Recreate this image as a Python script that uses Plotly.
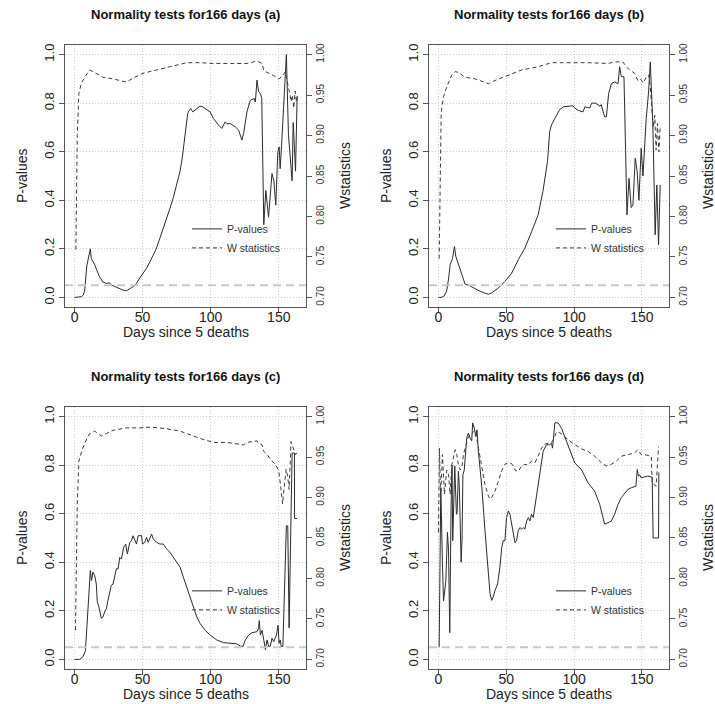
import plotly.graph_objects as go

# ---------------- data ----------------
panel_labels = ["(a)", "(b)", "(c)", "(d)"]
title_text = "Normality tests for166 days "
x_label = "Days since 5 deaths"
p_label = "P-values"
w_label = "Wstatistics"
p_name = "P-values"
w_name = "W statistics"
alpha_level = 0.05
x_ticks = [0, 50, 100, 150]
p_ticks = [0.0, 0.2, 0.4, 0.6, 0.8, 1.0]
w_ticks = [0.70, 0.75, 0.80, 0.85, 0.90, 0.95, 1.00]

# panel (a)
days_p_a = [0, 3, 5, 6.5, 7.5, 9, 10.5, 11.6, 12.3, 13.5, 14.8, 16.5, 18.4, 20.9, 23.4, 25.8, 27.5, 29.5, 32, 35.7,
            38.1, 40, 41.8, 43.5, 45.5, 47.9, 50.5, 52.9, 55.5, 57.8, 60, 62.7, 65, 67.6, 70.1, 72.5, 75, 77.5, 79,
            81.1, 83.1, 84.2, 85.3, 86.8, 88, 89.7, 92.2, 94, 95.9, 97.5, 99.6, 102, 104, 105.7, 108.2, 110.6, 112,
            114.3, 116, 118, 120.5, 122.9, 124.2, 125.5, 126.6, 129.1, 132, 132.8, 134, 135.2, 136.5, 137.5, 138.3,
            139, 140.5, 142.5, 145, 146.4, 147.8, 149.3, 150.3, 151, 152, 153.5, 155.6, 157.1, 159.8, 160.6, 162.3,
            163.5]
p_a = [0.0, 0.0, 0.003, 0.01, 0.03, 0.13, 0.17, 0.2, 0.16, 0.15, 0.135, 0.11, 0.085, 0.063, 0.058, 0.06, 0.05, 0.045,
       0.038, 0.03, 0.027, 0.032, 0.04, 0.045, 0.058, 0.08, 0.1, 0.12, 0.148, 0.175, 0.2, 0.244, 0.28, 0.326, 0.367,
       0.41, 0.46, 0.52, 0.57, 0.655, 0.757, 0.77, 0.778, 0.764, 0.77, 0.778, 0.788, 0.785, 0.778, 0.77, 0.764, 0.737,
       0.72, 0.71, 0.696, 0.723, 0.715, 0.716, 0.71, 0.703, 0.689, 0.648, 0.675, 0.73, 0.764, 0.812, 0.819, 0.805,
       0.895, 0.847, 0.84, 0.82, 0.5, 0.3, 0.44, 0.33, 0.51, 0.48, 0.38, 0.6, 0.62, 0.53, 0.62, 0.8, 1.0, 0.67, 0.48,
       0.72, 0.52, 0.83]
days_w_a = [1, 1.7, 2, 3.2, 4.9, 7.4, 11.1, 13.5, 18.4, 20.9, 28.3, 38.1, 43, 50.4, 60.3, 72.6, 82.4, 92.2, 102,
            116.8, 126.6, 134, 137.7, 138.9, 141.4, 146.3, 150, 152.5, 154.9, 157, 158, 159, 160, 161, 162, 163, 164]
w_a = [0.759, 0.85, 0.9, 0.952, 0.964, 0.972, 0.981, 0.979, 0.975, 0.972, 0.97, 0.966, 0.971, 0.977, 0.981, 0.986,
       0.99, 0.99, 0.989, 0.989, 0.989, 0.992, 0.989, 0.981, 0.978, 0.974, 0.97, 0.973, 0.979, 0.96, 0.953, 0.942,
       0.95, 0.934, 0.955, 0.941, 0.95]

# panel (b)
days_p_b = [0, 2, 4, 6, 7.5, 8.6, 10.3, 11.8, 12.7, 14.7, 17, 19.6, 23, 26, 29, 33, 36.8, 39, 44, 49, 54, 58.8, 63.7,
            68.6, 73.5, 77, 80.4, 82, 83.3, 85.8, 89.5, 92, 95.6, 99, 100.5, 103, 106.6, 108, 111.5, 113, 116, 119,
            120, 122.5, 123.8, 125.5, 127.5, 130, 132.4, 133.6, 134.8, 136.8, 138, 139, 140.5, 142.1, 143.4, 145.1,
            146.5, 147.8, 149.5, 150.8, 153.2, 155, 156.2, 158.1, 159.8, 161, 162.3, 163.5]
p_b = [0.0, 0.0, 0.005, 0.025, 0.08, 0.134, 0.16, 0.21, 0.17, 0.134, 0.093, 0.055, 0.048, 0.038, 0.03, 0.02, 0.013,
       0.018, 0.038, 0.066, 0.1, 0.155, 0.203, 0.27, 0.34, 0.436, 0.56, 0.682, 0.71, 0.737, 0.774, 0.785, 0.786,
       0.789, 0.78, 0.77, 0.764, 0.785, 0.78, 0.8, 0.8, 0.787, 0.794, 0.744, 0.744, 0.84, 0.88, 0.888, 0.88, 0.95,
       0.91, 0.908, 0.6, 0.34, 0.49, 0.37, 0.38, 0.573, 0.52, 0.4, 0.614, 0.5, 0.737, 0.85, 0.97, 0.71, 0.258, 0.463,
       0.217, 0.463]
days_w_b = [0.5, 2, 3.7, 6.1, 9.8, 12.3, 14.7, 19.6, 27, 36.8, 41.7, 49, 61.3, 73.5, 83.3, 98, 110.3, 125, 130, 136,
            138.5, 141, 144.6, 147, 149, 151, 153.2, 155, 156.2, 157.5, 158.5, 159.5, 160.5, 161.5, 162.5, 163.5]
w_b = [0.748, 0.929, 0.948, 0.96, 0.975, 0.979, 0.978, 0.972, 0.97, 0.964, 0.968, 0.973, 0.981, 0.985, 0.99, 0.99,
       0.99, 0.989, 0.991, 0.991, 0.985, 0.981, 0.977, 0.968, 0.97, 0.965, 0.972, 0.975, 0.96, 0.93, 0.91, 0.925,
       0.882, 0.915, 0.88, 0.91]

# panel (c)
days_p_c = [0, 3.7, 6.1, 8, 9.1, 10.6, 11.6, 12.5, 13.5, 14.8, 16, 16.7, 17.9, 19.7, 20.9, 22.1, 23.4, 24.6, 25.8, 27,
            28.3, 29.5, 30.7, 32, 33.2, 34.4, 36.1, 37.6, 38.8, 40.6, 41.8, 43, 44.3, 45.5, 46.7, 48.5, 49.2, 49.9,
            51.6, 52.9, 54.1, 56.6, 57.8, 60.3, 62.7, 65.2, 67.6, 70.1, 72.5, 75, 77.5, 79.9, 82.4, 84.8, 87.3, 89.8,
            92.2, 95.9, 99.6, 104.5, 109.4, 114.3, 119.2, 121.7, 123.7, 125.4, 127.9, 130.3, 134, 135.2, 135.7, 136.5,
            137.7, 139, 140.2, 141.4, 142.6, 143.8, 145, 146.3, 147.5, 148.3, 149.5, 150.2, 151.1, 151.8, 153, 154.4,
            155.6, 156.6, 157.6, 159.8, 161.5, 161.6, 163.5]
p_c = [0.0, 0.0, 0.01, 0.035, 0.135, 0.285, 0.366, 0.325, 0.36, 0.345, 0.31, 0.237, 0.216, 0.169, 0.175, 0.195, 0.209,
       0.244, 0.27, 0.305, 0.31, 0.34, 0.373, 0.373, 0.42, 0.413, 0.462, 0.475, 0.434, 0.482, 0.489, 0.509, 0.489,
       0.475, 0.509, 0.51, 0.51, 0.475, 0.482, 0.502, 0.482, 0.516, 0.496, 0.482, 0.475, 0.475, 0.455, 0.441, 0.42,
       0.4, 0.38, 0.339, 0.298, 0.257, 0.216, 0.175, 0.148, 0.12, 0.1, 0.08, 0.069, 0.066, 0.064, 0.055, 0.053, 0.08,
       0.1, 0.11, 0.114, 0.128, 0.16, 0.1, 0.12, 0.08, 0.04, 0.08, 0.053, 0.055, 0.087, 0.073, 0.094, 0.1, 0.141,
       0.066, 0.08, 0.053, 0.053, 0.3, 0.55, 0.55, 0.13, 0.85, 0.85, 0.58, 0.58]
days_w_c = [0.7, 2, 3.2, 5.6, 8.6, 11.1, 14.8, 18.4, 19.7, 23.4, 28.3, 38.1, 47.9, 55.3, 67.6, 77.5, 82.4, 92.2, 102,
            111.8, 124.2, 126.6, 134, 135.2, 137.7, 139, 141.4, 145, 147.5, 150, 151.5, 152.8, 154, 155.4, 156.6,
            157.6, 159, 160.5, 162.3, 163.5]
w_c = [0.736, 0.892, 0.945, 0.959, 0.971, 0.979, 0.982, 0.977, 0.976, 0.979, 0.983, 0.986, 0.986, 0.987, 0.985,
       0.982, 0.979, 0.973, 0.968, 0.968, 0.965, 0.968, 0.97, 0.967, 0.965, 0.957, 0.953, 0.945, 0.941, 0.933, 0.912,
       0.892, 0.913, 0.935, 0.925, 0.91, 0.969, 0.961, 0.953, 0.955]

# panel (d)
days_p_d = [0.5, 1.7, 2.9, 3.7, 5.4, 6.6, 7.4, 8.3, 9.3, 10, 10.5, 11.5, 12, 13.2, 13.7, 14.7, 15.4, 16.7, 17.4, 18,
            19, 20.8, 22, 23.3, 24.5, 25.2, 26.5, 27.5, 28.4, 29.4, 32, 34.3, 36.8, 38, 39.2, 40.4, 41.7, 43.6, 45.3,
            46.6, 47.8, 49, 50.2, 51.5, 52.7, 54, 56.4, 57.6, 58.8, 60, 61.3, 62.5, 63.7, 65, 66.2, 67.4, 68.6, 69.9,
            72.3, 74.8, 77.2, 79.7, 82, 83.3, 84.1, 85.8, 88.2, 90.7, 93.1, 95.6, 98, 100.5, 105.4, 110.3, 115.2,
            118.9, 121.3, 122.5, 125, 127.5, 129.9, 132.4, 134.8, 137.3, 139.7, 142.2, 144.6, 145.6, 146.6, 147.5,
            148.5, 149.5, 154.4, 157.6, 158.3, 162.3, 162.5]
p_d = [0.05, 0.707, 0.4, 0.24, 0.32, 0.523, 0.45, 0.11, 0.638, 0.8, 0.489, 0.76, 0.797, 0.598, 0.6, 0.775, 0.707,
       0.4, 0.5, 0.76, 0.78, 0.911, 0.932, 0.911, 0.9, 0.974, 0.95, 0.918, 0.945, 0.857, 0.707, 0.529, 0.353, 0.271,
       0.243, 0.257, 0.284, 0.311, 0.38, 0.46, 0.489, 0.489, 0.584, 0.611, 0.598, 0.557, 0.48, 0.489, 0.53, 0.543,
       0.536, 0.543, 0.536, 0.57, 0.584, 0.57, 0.598, 0.584, 0.68, 0.775, 0.857, 0.884, 0.884, 0.89, 0.87, 0.974,
       0.974, 0.952, 0.918, 0.884, 0.85, 0.809, 0.782, 0.727, 0.693, 0.638, 0.584, 0.557, 0.563, 0.57, 0.598, 0.638,
       0.666, 0.686, 0.7, 0.707, 0.713, 0.713, 0.782, 0.755, 0.76, 0.748, 0.755, 0.75, 0.5, 0.5, 0.77]
days_w_d = [0, 0.7, 1.5, 2, 2.9, 4.4, 6.1, 7.4, 8.6, 9.8, 11, 12.3, 13.5, 14.7, 16, 17.2, 18.4, 19.6, 22, 24.5, 27,
            28.2, 29.4, 32, 34.3, 36.8, 38, 39.2, 41.7, 44.1, 46.6, 49, 51.5, 53.9, 56.4, 58.8, 61.3, 63.7, 66.2, 68.6,
            71.1, 73.5, 76, 78.4, 80.9, 83.3, 85.3, 87, 89.5, 92, 95.6, 100.5, 105.4, 110.3, 115.2, 120.1, 123.8,
            127.5, 131.2, 134.8, 139.7, 144.6, 147, 148.3, 149.5, 152, 156.9, 157.6, 160.5, 162.3]
w_d = [0.857, 0.961, 0.904, 0.916, 0.953, 0.904, 0.934, 0.928, 0.904, 0.94, 0.949, 0.959, 0.953, 0.94, 0.934, 0.937,
       0.953, 0.961, 0.975, 0.979, 0.983, 0.973, 0.961, 0.94, 0.916, 0.902, 0.898, 0.9, 0.908, 0.92, 0.933, 0.941,
       0.943, 0.942, 0.934, 0.932, 0.939, 0.941, 0.94, 0.945, 0.943, 0.951, 0.961, 0.966, 0.967, 0.968, 0.973, 0.981,
       0.98, 0.977, 0.971, 0.965, 0.96, 0.957, 0.951, 0.943, 0.939, 0.941, 0.945, 0.951, 0.953, 0.955, 0.959, 0.955,
       0.953, 0.953, 0.951, 0.918, 0.914, 0.963]

panels = [
    (days_p_a, p_a, days_w_a, w_a),
    (days_p_b, p_b, days_w_b, w_b),
    (days_p_c, p_c, days_w_c, w_c),
    (days_p_d, p_d, days_w_d, w_d),
]

# ---------------- layout geometry (pixels) ----------------
W, H = 715, 704
box_x = [(65, 306), (429, 669), (65, 306), (429, 669)]
row_dy = 363
box_y = [(43, 306), (43, 306), (43 + row_dy, 306 + row_dy), (43 + row_dy, 306 + row_dy)]

def px(x):
    return x / W

def py(y):
    return 1 - y / H

font_family = "Liberation Sans, Arial, Helvetica, sans-serif"
axis_col = "#555555"
grid_col = "#cfcfcf"

fig = go.Figure()
layout = dict(
    width=W, height=H, margin=dict(l=0, r=0, t=0, b=0),
    paper_bgcolor="white", plot_bgcolor="white",
    font=dict(family=font_family, color="#222222"),
    showlegend=True,
)
annotations = []
shapes = []

for i, (dp, pv, dw, wv) in enumerate(panels):
    k = i + 1
    xa = "x" if k == 1 else f"x{k}"
    ya_l = "y" if k == 1 else f"y{2 * k - 1}"
    ya_r = f"y{2 * k}"
    leg = "legend" if k == 1 else f"legend{k}"
    fig.add_trace(go.Scatter(x=dp, y=pv, mode="lines", name=p_name, xaxis=xa, yaxis=ya_l,
                             line=dict(color="#2a2a2a", width=1), legend=leg))
    fig.add_trace(go.Scatter(x=dw, y=wv, mode="lines", name=w_name, xaxis=xa, yaxis=ya_r,
                             line=dict(color="#3a3a3a", width=1, dash="4px,3px"), legend=leg))

    x0, x1 = box_x[i]
    y0, y1 = box_y[i]
    xkey = "xaxis" if k == 1 else f"xaxis{k}"
    ylkey = "yaxis" if k == 1 else f"yaxis{2 * k - 1}"
    yrkey = f"yaxis{2 * k}"
    layout[xkey] = dict(
        domain=[px(x0), px(x1)], anchor=ya_l, range=[-7, 170],
        tickvals=x_ticks, ticks="outside", ticklen=5, tickcolor=axis_col,
        ticklabelstandoff=-8,
        showline=True, linecolor=axis_col, linewidth=1, mirror=True,
        showgrid=True, gridcolor=grid_col, griddash="1px,2px", gridwidth=1, zeroline=False,
        tickfont=dict(size=14, color="#222222"),
    )
    layout[ylkey] = dict(
        domain=[py(y1), py(y0)], anchor=xa, range=[-0.04, 1.04],
        tickvals=p_ticks, ticktext=[f"{v:.1f}" for v in p_ticks], tickangle=-90,
        ticks="outside", ticklen=5, tickcolor=axis_col,
        showline=True, linecolor=axis_col, linewidth=1, mirror=True,
        showgrid=True, gridcolor=grid_col, griddash="1px,2px", gridwidth=1, zeroline=False,
        tickfont=dict(size=13, color="#222222"),
    )
    layout[yrkey] = dict(
        overlaying=ya_l, side="right", anchor=xa, range=[0.688, 1.012],
        tickvals=w_ticks, ticktext=[f"{v:.2f}" for v in w_ticks], tickangle=-90,
        ticks="outside", ticklen=5, tickcolor=axis_col,
        showline=True, linecolor=axis_col, linewidth=1,
        showgrid=False, zeroline=False,
        tickfont=dict(size=10, color="#333333"),
    )
    layout[leg] = dict(
        x=px(x0 + 122), y=py(y0 + 170), xanchor="left", yanchor="top",
        bgcolor="rgba(0,0,0,0)", borderwidth=0, tracegroupgap=0,
        font=dict(size=10.5, color="#333333", family=font_family),
    )
    shapes.append(dict(type="line", xref=f"{xa} domain", yref=ya_l, x0=0, x1=1,
                       y0=alpha_level, y1=alpha_level,
                       line=dict(color="#c8c8c8", width=2, dash="8px,5px"), layer="above"))
    cx = (x0 + x1) / 2
    cy = (y0 + y1) / 2
    annotations.append(dict(text="<b>" + title_text + panel_labels[i] + "</b>", xref="paper", yref="paper",
                            x=px(cx), y=py(y0 - 30), showarrow=False, xanchor="center", yanchor="middle",
                            font=dict(size=13, color="#111111")))
    annotations.append(dict(text=x_label, xref="paper", yref="paper", x=px(cx), y=py(y1 + 25),
                            showarrow=False, xanchor="center", yanchor="middle",
                            font=dict(size=14, color="#222222")))
    annotations.append(dict(text=p_label, xref="paper", yref="paper", x=px(x0 - 43), y=py(cy),
                            showarrow=False, xanchor="center", yanchor="middle", textangle=-90,
                            font=dict(size=14, color="#222222")))
    annotations.append(dict(text=w_label, xref="paper", yref="paper", x=px(x1 + 39), y=py(cy),
                            showarrow=False, xanchor="center", yanchor="middle", textangle=-90,
                            font=dict(size=14, color="#222222")))

layout["annotations"] = annotations
layout["shapes"] = shapes
fig.update_layout(**layout)
fig.write_html("out.html")
